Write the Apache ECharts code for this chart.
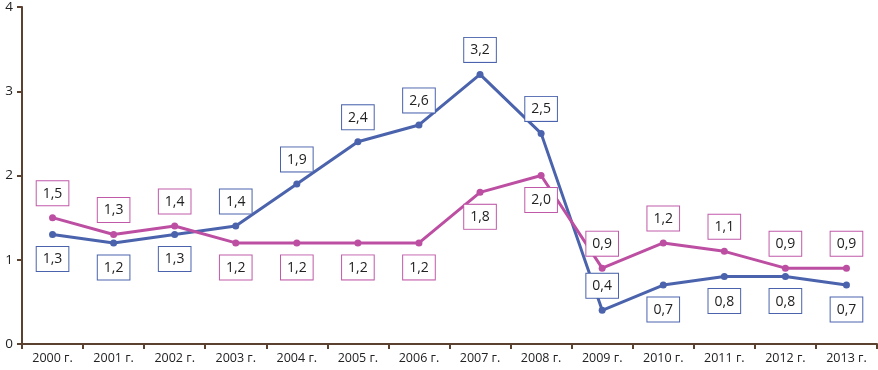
<!DOCTYPE html>
<html>
<head>
<meta charset="utf-8">
<script src="https://cdn.jsdelivr.net/npm/echarts@6/dist/echarts.min.js"></script>
<style>
  html, body { margin: 0; padding: 0; background: #fff; }
  #chart { width: 878px; height: 370px; }
</style>
</head>
<body>
<div id="chart"></div>
<script>
var years = ['2000 г.', '2001 г.', '2002 г.', '2003 г.', '2004 г.', '2005 г.', '2006 г.',
             '2007 г.', '2008 г.', '2009 г.', '2010 г.', '2011 г.', '2012 г.', '2013 г.'];
var blueValues = [1.3, 1.2, 1.3, 1.4, 1.9, 2.4, 2.6, 3.2, 2.5, 0.4, 0.7, 0.8, 0.8, 0.7];
var pinkValues = [1.5, 1.3, 1.4, 1.2, 1.2, 1.2, 1.2, 1.8, 2.0, 0.9, 1.2, 1.1, 0.9, 0.9];
var yTicks = [0, 1, 2, 3, 4];

// where each point's label sits
var blueSide = ['bottom', 'bottom', 'bottom', 'top', 'top', 'top', 'top',
                'top', 'top', 'top', 'bottom', 'bottom', 'bottom', 'bottom'];
var pinkSide = ['top', 'top', 'top', 'bottom', 'bottom', 'bottom', 'bottom',
                'bottom', 'bottom', 'top', 'top', 'top', 'top', 'top'];

function fmt(p) {
    return p.value.toFixed(1).replace('.', ',');
}

function makeSeries(name, values, sides, color, border) {
    return {
        name: name,
        type: 'line',
        data: values.map(function (v, i) {
            return { value: v, label: { position: sides[i] } };
        }),
        symbol: 'circle',
        symbolSize: 7,
        lineStyle: { color: color, width: 3 },
        itemStyle: { color: color },
        label: {
            show: true,
            formatter: fmt,
            distance: 9,
            color: '#222',
            fontFamily: 'Open Sans',
            fontSize: 14,
            lineHeight: 17,
            backgroundColor: '#fff',
            borderColor: border,
            borderWidth: 1,
            padding: [4, 6, 3, 6]
        },
        z: 3
    };
}

var myChart = echarts.init(document.getElementById('chart'));
var option = {
    animation: false,
    grid: { left: 22, right: 1, top: 5, bottom: 26 },
    xAxis: {
        type: 'category',
        data: years,
        boundaryGap: true,
        axisLine: { lineStyle: { color: '#5b4130', width: 2 } },
        axisTick: { show: true, interval: 0, length: 5, lineStyle: { color: '#5b4130', width: 2 } },
        axisLabel: { interval: 0, color: '#222', fontFamily: 'Open Sans', fontSize: 12.5, margin: 8 }
    },
    yAxis: {
        type: 'value',
        min: yTicks[0],
        max: yTicks[yTicks.length - 1],
        interval: 1,
        splitLine: { show: false },
        axisLine: { show: true, lineStyle: { color: '#5b4130', width: 2 } },
        axisTick: { show: true, length: 5, lineStyle: { color: '#5b4130', width: 2 } },
        axisLabel: { color: '#222', fontFamily: 'Open Sans', fontSize: 13.5, margin: 9 }
    },
    series: [
        makeSeries('blue', blueValues, blueSide, '#4a63ac', '#4a63ac'),
        makeSeries('pink', pinkValues, pinkSide, '#bd4fa3', '#c05aa8')
    ]
};
myChart.setOption(option);
</script>
</body>
</html>
